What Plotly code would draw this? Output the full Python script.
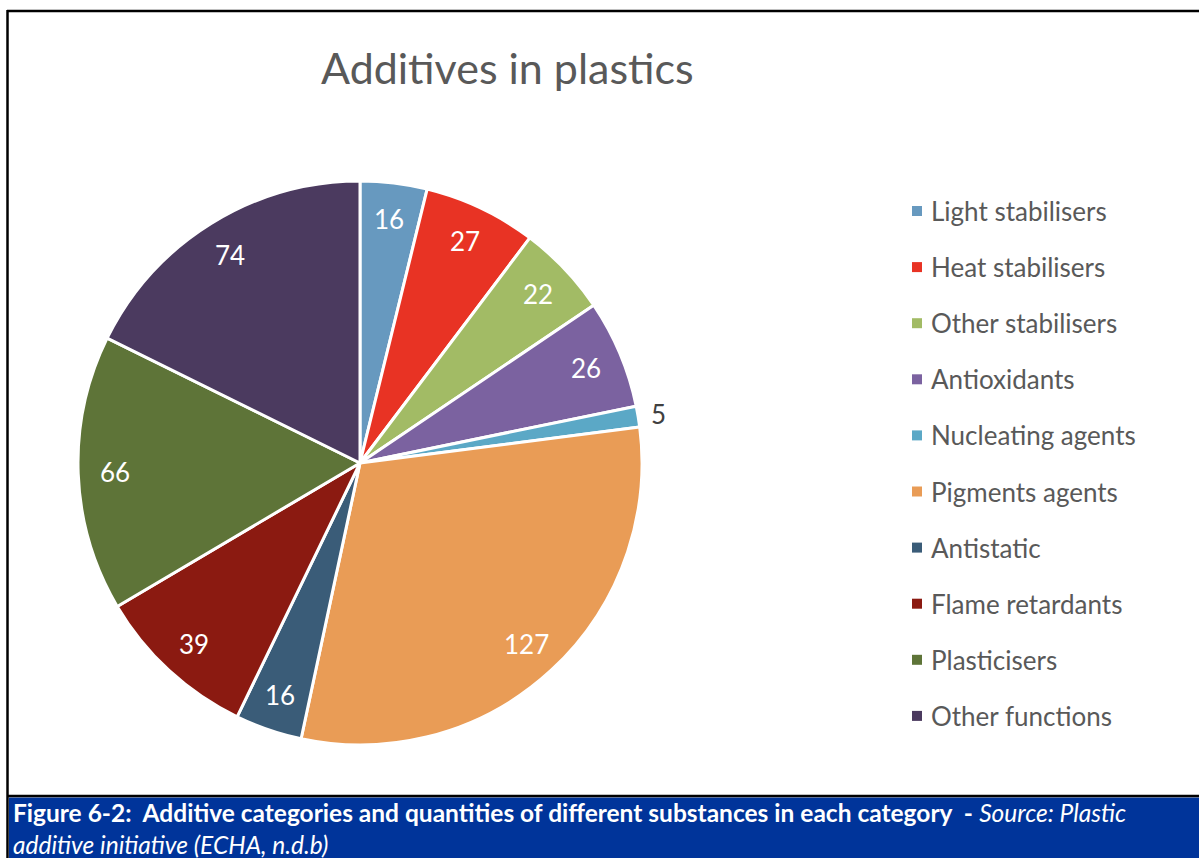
import numpy as np
import plotly.graph_objects as go

# Additive categories and number of substances in each
categories = ["Light stabilisers", "Heat stabilisers", "Other stabilisers", "Antioxidants",
              "Nucleating agents", "Pigments agents", "Antistatic", "Flame retardants",
              "Plasticisers", "Other functions"]
counts = [16, 27, 22, 26, 5, 127, 16, 39, 66, 74]
colors = ["#6799BF", "#E83324", "#A2BB65", "#7B62A0", "#5BA8C6",
          "#E99C56", "#3A5C78", "#8B1A11", "#5E7438", "#4B3A5F"]

W, H = 1199, 858
FONT = "Lato"
GRAY = "#595959"

# pie geometry in pixels
cx, cy, R = 360, 463, 282


def px(x):
    return x / W


def py(y):
    return 1 - y / H


fig = go.Figure()
fig.add_trace(go.Pie(
    labels=categories,
    values=counts,
    marker=dict(colors=colors, line=dict(color="white", width=3)),
    sort=False,
    direction="clockwise",
    rotation=0,
    textinfo="none",
    hoverinfo="label+value",
    domain=dict(x=[px(cx - R), px(cx + R)], y=[py(cy + R), py(cy - R)]),
    showlegend=False,
))

annotations = []

# value labels placed along the middle angle of each slice
vals = np.array(counts, dtype=float)
cum = np.cumsum(vals) - vals / 2
mid = cum / vals.sum() * 2 * np.pi
for v, a in zip(counts, mid):
    small = v / vals.sum() < 0.02
    r = 1.05 * R if small else 0.87 * R
    x = cx + r * np.sin(a)
    y = cy - r * np.cos(a)
    annotations.append(dict(
        x=px(x + (6 if small else 0)), y=py(y), xref="paper", yref="paper",
        text=str(v), showarrow=False, xanchor="center", yanchor="middle",
        font=dict(family=FONT, size=26, color="#404040" if small else "white"),
    ))

# title
annotations.append(dict(
    x=px(507), y=py(68), xref="paper", yref="paper", text="Additives in plastics",
    showarrow=False, xanchor="center", yanchor="middle",
    font=dict(family=FONT, size=43, color=GRAY),
))

shapes = []

# legend: coloured squares with category names
leg_x, leg_y0, leg_dy = 912, 211, 56.1
for i, (name, col) in enumerate(zip(categories, colors)):
    yc = leg_y0 + i * leg_dy
    shapes.append(dict(type="rect", xref="paper", yref="paper",
                       x0=px(leg_x), x1=px(leg_x + 10), y0=py(yc + 5), y1=py(yc - 5),
                       fillcolor=col, line=dict(width=0)))
    annotations.append(dict(
        x=px(leg_x + 17), y=py(yc), xref="paper", yref="paper", text=name,
        showarrow=False, xanchor="left", yanchor="middle",
        font=dict(family=FONT, size=26, color=GRAY),
    ))

# frame around the chart
shapes.append(dict(type="line", xref="paper", yref="paper",
                   x0=px(7), x1=1, y0=py(11), y1=py(11), line=dict(color="black", width=2.5)))
shapes.append(dict(type="line", xref="paper", yref="paper",
                   x0=px(7.5), x1=px(7.5), y0=py(10), y1=0, line=dict(color="black", width=2.5)))
shapes.append(dict(type="line", xref="paper", yref="paper",
                   x0=px(7), x1=1, y0=py(796), y1=py(796), line=dict(color="black", width=2.5)))

# caption band
shapes.append(dict(type="rect", xref="paper", yref="paper",
                   x0=px(9), x1=1, y0=0, y1=py(797.5),
                   fillcolor="#00349A", line=dict(width=0), layer="below"))
annotations.append(dict(
    x=px(12), y=py(828), xref="paper", yref="paper",
    text=("<b>Figure 6-2:&nbsp; Additive categories and quantities of different substances "
          "in each category&nbsp; -</b> <i>Source: Plastic</i><br>"
          "<i>additive initiative (ECHA, n.d.b)</i>"),
    showarrow=False, xanchor="left", yanchor="middle", align="left",
    borderpad=0,
    font=dict(family=FONT, size=24.5, color="white"),
))

fig.update_layout(
    width=W, height=H,
    margin=dict(l=0, r=0, t=0, b=0),
    paper_bgcolor="white",
    plot_bgcolor="white",
    shapes=shapes,
    annotations=annotations,
    showlegend=False,
)

fig.write_html("out.html", config={"displayModeBar": False})
